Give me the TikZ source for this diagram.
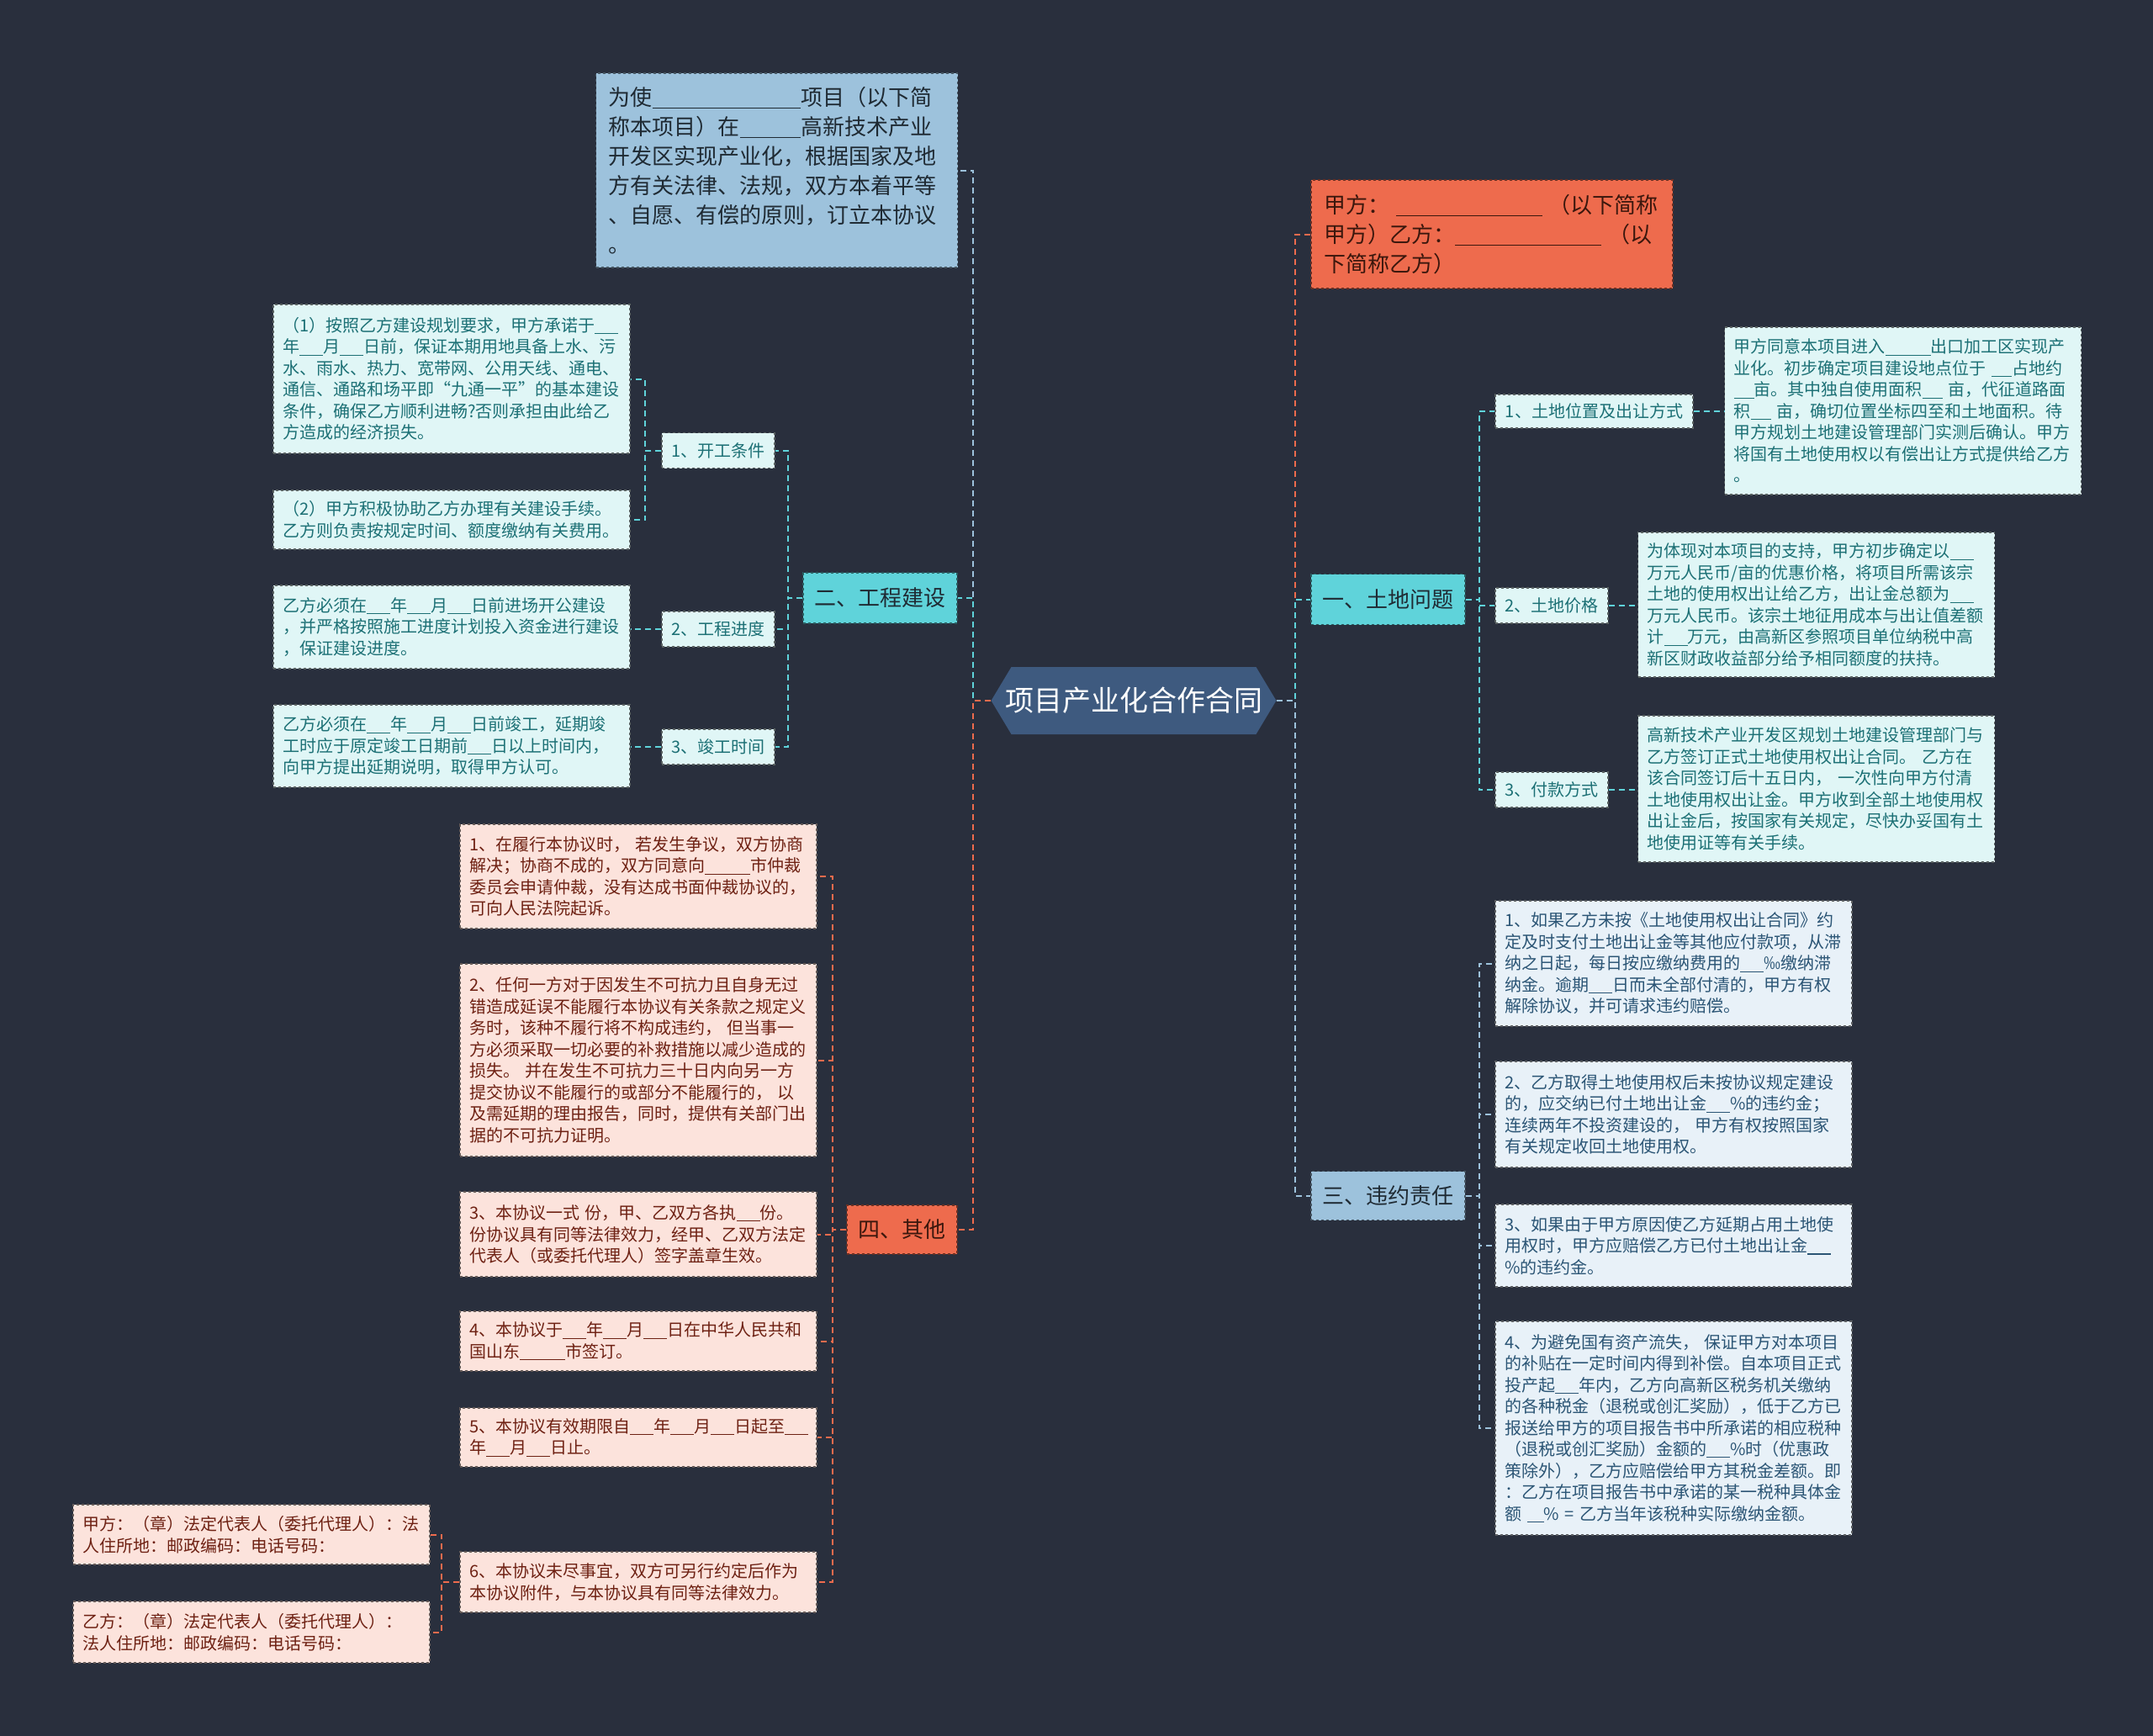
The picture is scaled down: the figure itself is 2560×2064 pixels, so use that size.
\documentclass[tikz,border=0pt]{standalone}
\usepackage{fontspec}
\setmainfont{Noto Sans CJK SC}
\definecolor{bgc}{HTML}{292F3D}
\definecolor{cyanb}{HTML}{5FD3DA}
\definecolor{cyanl}{HTML}{E0F6F6}
\definecolor{cyant}{HTML}{1C7075}
\definecolor{blueb}{HTML}{9DC2DC}
\definecolor{bluel}{HTML}{E8F1F8}
\definecolor{bluet}{HTML}{2B5575}
\definecolor{orgb}{HTML}{EE6B4D}
\definecolor{pinkl}{HTML}{FCE3DC}
\definecolor{pinkt}{HTML}{6E2113}
\definecolor{hexc}{HTML}{3E5A7F}
\definecolor{darkt}{HTML}{1F2A33}
\definecolor{brownt}{HTML}{3B170D}
\newcommand\fleaf{\fontsize{20pt}{25.5pt}\selectfont}
\newcommand\fbig{\fontsize{26pt}{35pt}\selectfont}
\newcommand\fsub{\fontsize{20pt}{24pt}\selectfont}
\newcommand\fhub{\fontsize{34pt}{40pt}\selectfont}
\newcommand\blk[1][1.4]{\rule[-0.14em]{#1em}{0.055em}}
\tikzset{
  nb/.style={rectangle, inner xsep=11pt, inner ysep=0pt, align=left, dashed, line width=1.2pt},
  leafc/.style={nb, fill=cyanl, draw=cyanl!40!black, text=cyant, font=\fleaf, text width=402pt},
  leafb/.style={nb, fill=bluel, draw=bluel!40!black, text=bluet, font=\fleaf, text width=402pt},
  leafp/.style={nb, fill=pinkl, draw=pinkl!40!black, text=pinkt, font=\fleaf, text width=402pt},
  subc/.style={nb, fill=cyanl, draw=cyanl!40!black, text=cyant, font=\fsub, align=center, inner xsep=0pt, minimum height=42pt},
  brn/.style={rectangle, dashed, line width=1.2pt, font=\fbig, inner sep=0pt, align=center, minimum height=60pt},
  conn/.style={dash pattern=on 7pt off 5pt, line width=2pt},
}
\begin{document}
\begin{tikzpicture}[x=1pt,y=-1pt]
\fill[bgc] (0,0) rectangle (2560,2064);
\useasboundingbox (0,0) rectangle (2560,2064);

% hub
\node[rectangle, minimum width=339pt, minimum height=80pt, inner sep=0pt, text=white, font=\fhub,
  path picture={\fill[hexc] (path picture bounding box.west) -- ([xshift=24pt]path picture bounding box.north west) -- ([xshift=-24pt]path picture bounding box.north east) -- (path picture bounding box.east) -- ([xshift=-24pt]path picture bounding box.south east) -- ([xshift=24pt]path picture bounding box.south west) -- cycle;}]
  (hub) at (1348,833) {项目产业化合作合同};

% top boxes
\node[nb, fill=blueb, draw=blueb!45!black, text=darkt, font=\fbig, text width=400pt, inner xsep=15pt, minimum height=231pt] (intro) at (923.5,202.5)
 {为使\blk[6.8]项目（以下简\\称本项目）在\blk[2.8]高新技术产业\\开发区实现产业化，根据国家及地\\方有关法律、法规，双方本着平等\\、自愿、有偿的原则，订立本协议\\。};
\node[nb, fill=orgb, draw=orgb!45!black, text=brownt, font=\fbig, text width=400pt, inner xsep=15pt, minimum height=129pt] (party) at (1774,278.5)
 {甲方：\hspace*{0.3em}\blk[6.7]\hspace*{0.3em}（以下简称\\甲方）乙方：\blk[6.7]\hspace*{0.3em}（以\\下简称乙方）};

% branches
\node[brn, fill=cyanb, draw=cyanb!45!black, text=darkt, minimum width=183pt] (er) at (1046.5,711) {二、工程建设};
\node[brn, fill=cyanb, draw=cyanb!45!black, text=darkt, minimum width=183pt] (yi) at (1650.5,712.5) {一、土地问题};
\node[brn, fill=blueb, draw=blueb!45!black, text=darkt, minimum width=183pt, minimum height=58pt] (san) at (1650.5,1421.5) {三、违约责任};
\node[brn, fill=orgb, draw=orgb!45!black, text=brownt, minimum width=131pt, minimum height=58pt] (si) at (1072.5,1462) {四、其他};

% branch 二
\node[subc, minimum width=134pt] (kg) at (854,535.5) {1、开工条件};
\node[subc, minimum width=134pt] (jd) at (854,748) {2、工程进度};
\node[subc, minimum width=134pt] (jg) at (854,888) {3、竣工时间};
\node[leafc, minimum height=177pt] (g1) at (537,450.5)
 {（1）按照乙方建设规划要求，甲方承诺于\blk\\
  年\blk 月\blk 日前，保证本期用地具备上水、污\\
  水、雨水、热力、宽带网、公用天线、通电、\\
  通信、通路和场平即“九通一平”的基本建设\\
  条件，确保乙方顺利进畅?否则承担由此给乙\\
  方造成的经济损失。};
\node[leafc, minimum height=70pt] (g2) at (537,618)
 {（2）甲方积极协助乙方办理有关建设手续。\\乙方则负责按规定时间、额度缴纳有关费用。};
\node[leafc, minimum height=99pt] (g3) at (537,745.5)
 {乙方必须在\blk 年\blk 月\blk 日前进场开公建设\\，并严格按照施工进度计划投入资金进行建设\\，保证建设进度。};
\node[leafc, minimum height=98pt] (g4) at (537,887)
 {乙方必须在\blk 年\blk 月\blk 日前竣工，延期竣\\工时应于原定竣工日期前\blk 日以上时间内，\\向甲方提出延期说明，取得甲方认可。};

% branch 一
\node[subc, minimum width=235pt, minimum height=40pt] (s1) at (1895.5,489) {1、土地位置及出让方式};
\node[subc, minimum width=134pt] (s2) at (1845,720) {2、土地价格};
\node[subc, minimum width=134pt] (s3) at (1845,939) {3、付款方式};
\node[leafc, minimum height=199pt] (t1) at (2262.5,488.5)
 {甲方同意本项目进入\blk[2.7]出口加工区实现产\\
  业化。初步确定项目建设地点位于~\blk[1.2]占地约\\
  \blk[1.2]亩。其中独自使用面积\blk[1.2]~亩，代征道路面\\
  积\blk[1.2]~亩，确切位置坐标四至和土地面积。待\\
  甲方规划土地建设管理部门实测后确认。甲方\\
  将国有土地使用权以有偿出让方式提供给乙方\\
  。};
\node[leafc, minimum height=172pt] (t2) at (2159.5,719)
 {为体现对本项目的支持，甲方初步确定以\blk\\
  万元人民币/亩的优惠价格，将项目所需该宗\\
  土地的使用权出让给乙方，出让金总额为\blk\\
  万元人民币。该宗土地征用成本与出让值差额\\
  计\blk 万元，由高新区参照项目单位纳税中高\\
  新区财政收益部分给予相同额度的扶持。};
\node[leafc, minimum height=174pt] (t3) at (2159.5,938)
 {高新技术产业开发区规划土地建设管理部门与\\
  乙方签订正式土地使用权出让合同。~乙方在\\
  该合同签订后十五日内，~一次性向甲方付清\\
  土地使用权出让金。甲方收到全部土地使用权\\
  出让金后，按国家有关规定，尽快办妥国有土\\
  地使用证等有关手续。};

% branch 三
\node[leafb, minimum height=149pt] (v1) at (1990,1145.5)
 {1、如果乙方未按《土地使用权出让合同》约\\
  定及时支付土地出让金等其他应付款项，从滞\\
  纳之日起，每日按应缴纳费用的\blk‰缴纳滞\\
  纳金。逾期\blk 日而未全部付清的，甲方有权\\
  解除协议，并可请求违约赔偿。};
\node[leafb, minimum height=126pt] (v2) at (1990,1325)
 {2、乙方取得土地使用权后未按协议规定建设\\
  的，应交纳已付土地出让金\blk\%的违约金；\\
  连续两年不投资建设的，~甲方有权按照国家\\
  有关规定收回土地使用权。};
\node[leafb, minimum height=98pt] (v3) at (1990,1481)
 {3、如果由于甲方原因使乙方延期占用土地使\\
  用权时，甲方应赔偿乙方已付土地出让金\blk\\
  \%的违约金。};
\node[leafb, minimum height=254pt] (v4) at (1990,1698)
 {4、为避免国有资产流失，~保证甲方对本项目\\
  的补贴在一定时间内得到补偿。自本项目正式\\
  投产起\blk 年内，乙方向高新区税务机关缴纳\\
  的各种税金（退税或创汇奖励），低于乙方已\\
  报送给甲方的项目报告书中所承诺的相应税种\\
  （退税或创汇奖励）金额的\blk\%时（优惠政\\
  策除外），乙方应赔偿给甲方其税金差额。即\\
  ：乙方在项目报告书中承诺的某一税种具体金\\
  额~\blk[1]\%~=~乙方当年该税种实际缴纳金额。};

% branch 四
\node[leafp, minimum height=124pt] (q1) at (759,1042)
 {1、在履行本协议时，~若发生争议，双方协商\\
  解决；协商不成的，双方同意向\blk[2.7]市仲裁\\
  委员会申请仲裁，没有达成书面仲裁协议的，\\
  可向人民法院起诉。};
\node[leafp, minimum height=229pt] (q2) at (759,1260.5)
 {2、任何一方对于因发生不可抗力且自身无过\\
  错造成延误不能履行本协议有关条款之规定义\\
  务时，该种不履行将不构成违约，~但当事一\\
  方必须采取一切必要的补救措施以减少造成的\\
  损失。~并在发生不可抗力三十日内向另一方\\
  提交协议不能履行的或部分不能履行的，~以\\
  及需延期的理由报告，同时，提供有关部门出\\
  据的不可抗力证明。};
\node[leafp, minimum height=101pt] (q3) at (759,1467.5)
 {3、本协议一式~份，甲、乙双方各执\blk 份。\\
  份协议具有同等法律效力，经甲、乙双方法定\\
  代表人（或委托代理人）签字盖章生效。};
\node[leafp, minimum height=71pt] (q4) at (759,1594.5)
 {4、本协议于\blk 年\blk 月\blk 日在中华人民共和\\
  国山东\blk[2.7]市签订。};
\node[leafp, minimum height=70pt] (q5) at (759,1709)
 {5、本协议有效期限自\blk 年\blk 月\blk 日起至\blk\\
  年\blk 月\blk 日止。};
\node[leafp, minimum height=72pt] (q6) at (759,1881)
 {6、本协议未尽事宜，双方可另行约定后作为\\
  本协议附件，与本协议具有同等法律效力。};
\node[leafp, minimum height=71pt] (pa) at (299,1824.5)
 {甲方：（章）法定代表人（委托代理人）：法\\
  人住所地：邮政编码：电话号码：};
\node[leafp, minimum height=73pt] (pb) at (299,1940.5)
 {乙方：（章）法定代表人（委托代理人）：\\
  法人住所地：邮政编码：电话号码：};

% connectors from hub
\draw[conn, blueb] (hub.west) -- ++(-21,0) |- (intro.east);
\draw[conn, cyanb] (hub.west) -- ++(-21,0) |- (er.east);
\draw[conn, orgb]  (hub.west) -- ++(-21,0) |- (si.east);
\draw[conn, orgb]  (hub.east) -- ++(22,0) |- (party.west);
\draw[conn, cyanb] (hub.east) -- ++(22,0) |- (yi.west);
\draw[conn, blueb] (hub.east) -- ++(22,0) |- (san.west);

% 二
\foreach \t in {kg,jd,jg} \draw[conn, cyanb] (er.west) -- ++(-17,0) |- (\t.east);
\draw[conn, cyanb] (kg.west) -- ++(-19,0) |- (g1.east);
\draw[conn, cyanb] (kg.west) -- ++(-19,0) |- (g2.east);
\draw[conn, cyanb] (jd.west) -- (jd.west -| g3.east);
\draw[conn, cyanb] (jg.west) -- (jg.west -| g4.east);

% 一
\foreach \t in {s1,s2,s3} \draw[conn, cyanb] (yi.east) -- ++(16,0) |- (\t.west);
\draw[conn, cyanb] (s1.east) -- (s1.east -| t1.west);
\draw[conn, cyanb] (s2.east) -- (s2.east -| t2.west);
\draw[conn, cyanb] (s3.east) -- (s3.east -| t3.west);

% 三
\foreach \t in {v1,v2,v3,v4} \draw[conn, blueb] (san.east) -- ++(16,0) |- (\t.west);

% 四
\foreach \t in {q1,q2,q3,q4,q5,q6} \draw[conn, orgb] (si.west) -- ++(-16,0) |- (\t.east);
\draw[conn, orgb] (q6.west) -- ++(-21,0) |- (pa.east);
\draw[conn, orgb] (q6.west) -- ++(-21,0) |- (pb.east);
\end{tikzpicture}
\end{document}
